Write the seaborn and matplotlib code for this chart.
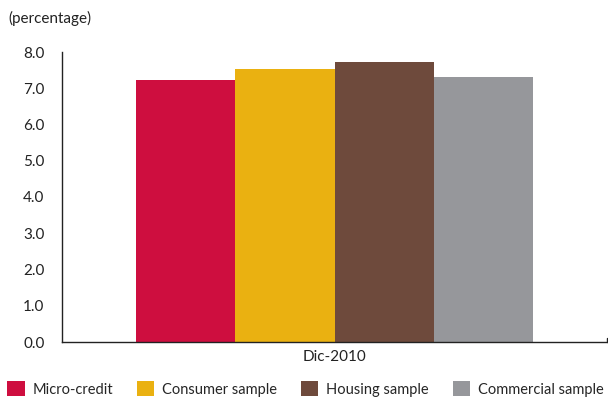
import matplotlib
matplotlib.use("Agg")
import matplotlib.pyplot as plt
import seaborn as sns
import pandas as pd

period = ["Dic-2010"]
series = ["Micro-credit", "Consumer sample", "Housing sample", "Commercial sample"]
values = [7.22, 7.53, 7.72, 7.31]
colors = ["#CE0E3F", "#EAB111", "#6E4A3C", "#96979B"]
yticks = [0.0, 1.0, 2.0, 3.0, 4.0, 5.0, 6.0, 7.0, 8.0]

df = pd.DataFrame({"period": period * len(series), "series": series, "value": values})

sns.set_style("white")
plt.rcParams["font.family"] = ["Lato", "DejaVu Sans"]

fig = plt.figure(figsize=(6.08, 3.97), dpi=100)
ax = fig.add_axes([62 / 608, 1 - 342 / 397, 545 / 608, 290 / 397])
sns.barplot(data=df, x="period", y="value", hue="series", palette=colors,
            width=0.73, saturation=1, ax=ax, legend=False, errorbar=None,
            linewidth=0, edgecolor="none")

ax.set_ylim(0, 8)
ax.set_xlim(-0.5, 0.5)
ax.set_yticks(yticks)
ax.set_yticklabels([f"{v:.1f}" for v in yticks], fontsize=11, color="#222222")
ax.set_xlabel("")
ax.set_ylabel("")
ax.tick_params(axis="x", length=0, labelsize=11, pad=6, colors="#222222")
ax.tick_params(axis="y", direction="in", length=4, width=1, pad=28, colors="#222222")
for lbl in ax.get_yticklabels():
    lbl.set_horizontalalignment("left")
for s in ["top", "right"]:
    ax.spines[s].set_visible(False)
for s in ["left", "bottom"]:
    ax.spines[s].set_color("#222222")
    ax.spines[s].set_linewidth(1.0)
ax.plot([0.5, 0.5], [0, 0.1], color="#222222", lw=1, clip_on=False)

fig.text(8 / 608, 1 - 18 / 397, "(percentage)", fontsize=11, va="center", ha="left", color="#222222")

from matplotlib.patches import Patch
handles = [Patch(facecolor=c, edgecolor="none") for c in colors]
fig.legend(handles, series, loc="center left", bbox_to_anchor=(7 / 608, 1 - 389 / 397),
           ncol=4, frameon=False, fontsize=10.5, handlelength=1.2, handleheight=1.2,
           handletextpad=0.55, columnspacing=1.62, borderaxespad=0, borderpad=0)

fig.savefig("out.png", dpi=100)
